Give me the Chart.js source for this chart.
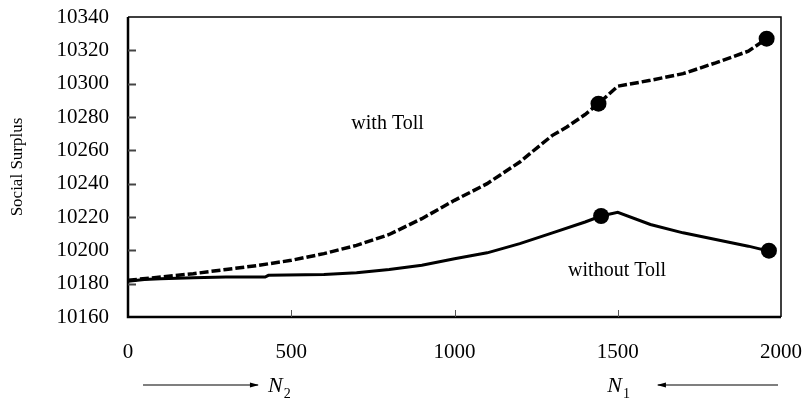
<!DOCTYPE html>
<html>
<head>
<meta charset="utf-8">
<script src="https://cdn.jsdelivr.net/npm/chart.js@4/dist/chart.umd.min.js"></script>
<style>
  html, body { margin: 0; padding: 0; background: #fff; }
  #wrap { width: 807px; height: 405px; position: relative; }
</style>
</head>
<body>
<div id="wrap"><canvas id="c" width="807" height="405"></canvas></div>
<script>
// Social surplus as a function of N (users on route 2 / route 1)
const tollN     = [0, 100, 200, 300, 400, 500, 600, 700, 800, 900, 1000, 1100, 1200, 1262, 1300, 1344, 1400, 1441, 1500, 1600, 1700, 1800, 1900, 1956];
const tollS     = [10182, 10184, 10186, 10188.5, 10191, 10194, 10198, 10203, 10209.5, 10219, 10230, 10240, 10253, 10263, 10269, 10274, 10281.5, 10288, 10298.5, 10302, 10306, 10312.5, 10319.5, 10327];
const noTollN   = [0, 50, 100, 200, 300, 420, 430, 600, 700, 800, 900, 1000, 1100, 1200, 1300, 1400, 1449, 1500, 1600, 1700, 1800, 1900, 1963];
const noTollS   = [10181.5, 10182.5, 10183, 10183.5, 10184, 10184, 10185, 10185.5, 10186.5, 10188.5, 10191, 10195, 10198.5, 10204, 10210.5, 10217, 10220.6, 10222.8, 10215.5, 10210.5, 10206.5, 10202.5, 10199.5];
// highlighted points on each curve
const tollDotN   = [1441, 1956];
const tollDotS   = [10288, 10327];
const noTollDotN = [1449, 1963];
const noTollDotS = [10220.6, 10199.8];
// axis ticks
const xTicks = [0, 500, 1000, 1500, 2000];
const yTicks = [10160, 10180, 10200, 10220, 10240, 10260, 10280, 10300, 10320, 10340];
// curve labels, anchored in data coordinates
const curveLabels = [
  { text: 'with Toll',    x: 795,  y: 10276 },
  { text: 'without Toll', x: 1498, y: 10188 }
];

const pts = (xs, ys) => xs.map((x, i) => ({ x, y: ys[i] }));
const SERIF = '"Liberation Serif", "Times New Roman", serif';

const decor = {
  id: 'decor',
  afterDraw(chart) {
    const { ctx, chartArea: a, scales: { x, y } } = chart;
    ctx.save();
    // frame
    ctx.strokeStyle = '#000';
    ctx.lineWidth = 1.5;
    ctx.beginPath();
    ctx.moveTo(a.left, a.top); ctx.lineTo(a.right, a.top); ctx.lineTo(a.right, a.bottom);
    ctx.stroke();
    ctx.lineWidth = 2.5;
    ctx.beginPath();
    ctx.moveTo(a.left, a.top); ctx.lineTo(a.left, a.bottom); ctx.lineTo(a.right, a.bottom);
    ctx.stroke();
    // inward ticks on y
    ctx.strokeStyle = '#444';
    ctx.lineWidth = 2;
    yTicks.forEach(v => {
      if (v === yTicks[0] || v === yTicks[yTicks.length - 1]) return;
      const py = Math.round(y.getPixelForValue(v)) + 0.5;
      ctx.beginPath(); ctx.moveTo(a.left, py); ctx.lineTo(a.left + 8, py); ctx.stroke();
    });
    // inward ticks on x
    ctx.strokeStyle = '#555';
    ctx.lineWidth = 1;
    xTicks.forEach(v => {
      if (v === xTicks[0] || v === xTicks[xTicks.length - 1]) return;
      const px = Math.round(x.getPixelForValue(v)) + 0.5;
      ctx.beginPath(); ctx.moveTo(px, a.bottom); ctx.lineTo(px, a.bottom - 7); ctx.stroke();
    });
    // curve labels
    ctx.fillStyle = '#000';
    ctx.font = '20px ' + SERIF;
    ctx.textAlign = 'center';
    ctx.textBaseline = 'middle';
    curveLabels.forEach(l => ctx.fillText(l.text, x.getPixelForValue(l.x), y.getPixelForValue(l.y)));
    // y-axis title
    ctx.save();
    ctx.translate(18, (a.top + a.bottom) / 2);
    ctx.rotate(-Math.PI / 2);
    ctx.font = '17px ' + SERIF;
    ctx.fillText('Social Surplus', 0, 0);
    ctx.restore();
    // direction arrows for N2 and N1
    const ay = 385;
    const arrow = (x0, x1) => {
      ctx.strokeStyle = '#000';
      ctx.lineWidth = 1.2;
      ctx.beginPath(); ctx.moveTo(x0, ay); ctx.lineTo(x1, ay); ctx.stroke();
      const d = Math.sign(x1 - x0);
      ctx.beginPath();
      ctx.moveTo(x1 + d * 1, ay);
      ctx.lineTo(x1 - d * 8, ay - 2.5);
      ctx.lineTo(x1 - d * 8, ay + 2.5);
      ctx.closePath(); ctx.fill();
    };
    arrow(x.getPixelForValue(46), x.getPixelForValue(398));
    arrow(x.getPixelForValue(1991), x.getPixelForValue(1623));
    const sym = (px, sub) => {
      ctx.textAlign = 'left';
      ctx.textBaseline = 'alphabetic';
      ctx.font = 'italic 22px ' + SERIF;
      ctx.fillText('N', px, ay + 7);
      const w = ctx.measureText('N').width;
      ctx.font = '14px ' + SERIF;
      ctx.fillText(sub, px + w + 1, ay + 13);
    };
    sym(x.getPixelForValue(429), '2');
    sym(x.getPixelForValue(1468), '1');
    ctx.restore();
  }
};

new Chart(document.getElementById('c'), {
  type: 'line',
  data: {
    datasets: [
      { data: pts(tollN, tollS), borderColor: '#000', borderWidth: 3.5, borderDash: [9, 3], pointRadius: 0, tension: 0 },
      { data: pts(noTollN, noTollS), borderColor: '#000', borderWidth: 3, pointRadius: 0, tension: 0 },
      { data: pts(tollDotN, tollDotS), showLine: false, pointRadius: 8, pointBackgroundColor: '#000', pointBorderWidth: 0 },
      { data: pts(noTollDotN, noTollDotS), showLine: false, pointRadius: 8, pointBackgroundColor: '#000', pointBorderWidth: 0 }
    ]
  },
  options: {
    responsive: false,
    animation: false,
    events: [],
    layout: { padding: { left: 0, right: 26, top: 17, bottom: 0 } },
    plugins: { legend: { display: false }, tooltip: { enabled: false } },
    scales: {
      x: {
        type: 'linear', min: 0, max: 2000,
        afterBuildTicks: s => { s.ticks = xTicks.map(v => ({ value: v })); },
        afterFit: s => { s.height = 88; s.paddingLeft = 0; s.paddingRight = 0; },
        grid: { display: false, drawTicks: false },
        border: { display: false },
        ticks: { color: '#000', padding: 23, maxRotation: 0, font: { family: SERIF, size: 21 }, callback: v => String(v) }
      },
      y: {
        min: 10160, max: 10340,
        afterBuildTicks: s => { s.ticks = yTicks.map(v => ({ value: v })); },
        afterFit: s => { s.width = 128; s.paddingTop = 0; s.paddingBottom = 0; },
        grid: { display: false, drawTicks: false },
        border: { display: false },
        ticks: { color: '#000', padding: 19, font: { family: SERIF, size: 21 }, callback: v => String(v) }
      }
    }
  },
  plugins: [decor]
});
</script>
</body>
</html>
